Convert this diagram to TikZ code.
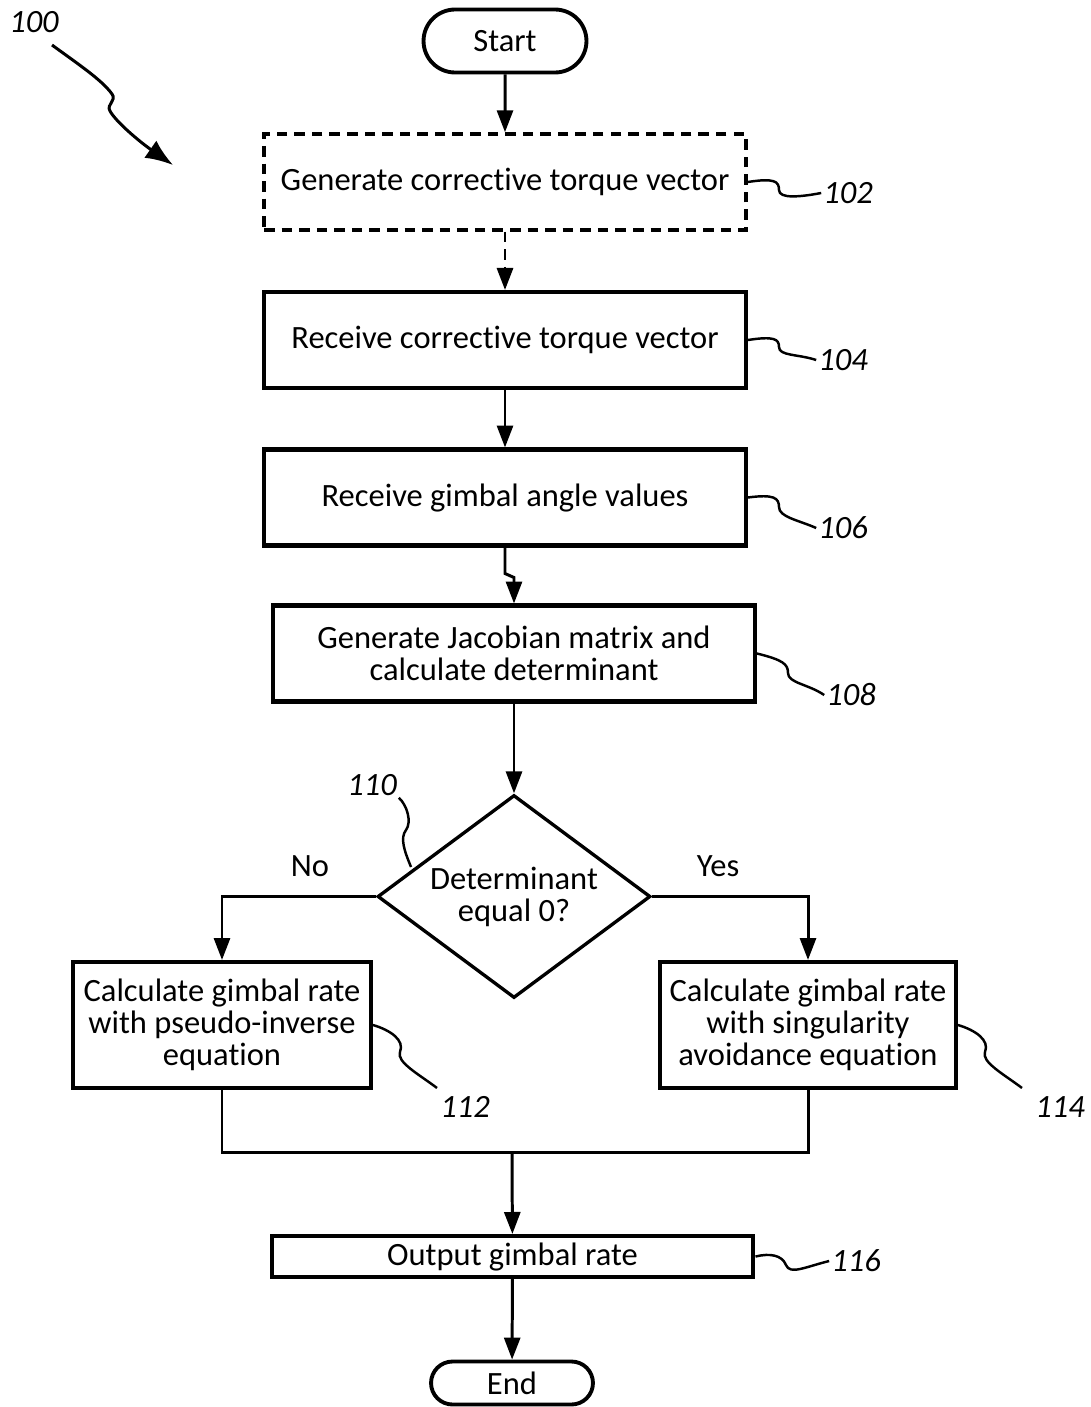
\documentclass[tikz,border=0pt]{standalone}
\usepackage{fontspec}
\setmainfont{Carlito}[RawFeature={-liga;-clig;-calt;-dlig}]
\usetikzlibrary{arrows.meta,positioning,shapes.geometric,shapes.misc}
\newcommand{\flowfont}{\fontsize{18.5}{18.2}\selectfont}
\tikzset{
  stepbox/.style={
    draw,line width=2.3pt,align=center,minimum width=9.64cm,
    minimum height=1.92cm,inner sep=2pt,font=\flowfont
  },
  dashbox/.style={stepbox,line width=2pt,dash pattern=on 6pt off 4pt},
  termbox/.style={draw,rounded rectangle,line width=2.2pt,inner sep=2pt,font=\flowfont},
  decision/.style={
    draw,diamond,aspect=1.345,line width=1.9pt,minimum width=5.46cm,
    minimum height=4.06cm,inner sep=0pt,align=center,font=\flowfont
  },
  reflabel/.style={inner sep=1pt,font=\flowfont\itshape},
  branchlabel/.style={inner sep=1pt,font=\flowfont},
  flowline/.style={line width=1.7pt},
  flowarrow/.style={flowline,-{Triangle[length=4.4mm,width=3.2mm]}},
  leadline/.style={line width=1.4pt},
  refarrow/.style={line width=1.7pt,-{Latex[length=5.5mm,width=4.2mm]}}
}

\begin{document}
\begin{tikzpicture}[x=0.02cm,y=-0.02cm]
  \useasboundingbox (0,0) rectangle (1091,1407);
  % flow chart steps
  \node[termbox,minimum width=3.4cm,minimum height=1.26cm] (start) at (505,41) {Start};
  \node[dashbox] (b102) at (505,182) {Generate corrective torque vector};
  \node[stepbox] (b104) at (505,340) {Receive corrective torque vector};
  \node[stepbox] (b106) at (505,497.5) {Receive gimbal angle values};
  \node[stepbox] (b108) at (514,653.5) {Generate Jacobian matrix and\\calculate determinant};
  \node[decision] (d110) at (514,896.5) {Determinant\\equal 0?};
  \node[stepbox,minimum width=5.96cm,minimum height=2.52cm] (b112) at (222,1025)
    {Calculate gimbal rate\\with pseudo-inverse\\equation};
  \node[stepbox,minimum width=5.92cm,minimum height=2.52cm] (b114) at (808,1025)
    {Calculate gimbal rate\\with singularity\\avoidance equation};
  \node[stepbox,minimum height=0.82cm] (b116) at (512.5,1256.5) {Output gimbal rate};
  \node[termbox,minimum width=3.38cm,minimum height=0.86cm] (end) at (512,1383) {End};
  \node[branchlabel] (no) at (310,866) {No};
  \node[branchlabel] (yes) at (718,866) {Yes};

  % connectors
  \draw[flowarrow] (start) -- (b102);
  \draw[flowarrow,dash pattern=on 6pt off 4pt] (b102) -- (b104);
  \draw[flowarrow] (b104) -- (b106);
  \draw[flowarrow] (b106.south) -- ++(0,26) -- ++(9,4) -- (b108.north);
  \draw[flowarrow] (b108) -- (d110);
  \draw[flowarrow] (d110.west) -| (b112.north);
  \draw[flowarrow] (d110.east) -| (b114.north);
  \coordinate (join) at (512,1152);
  \draw[flowline] (b112.south) |- (join) -| (b114.south);
  \draw[flowarrow] (join) -- (b116);
  \draw[flowarrow] (b116) -- (end);

  % reference numerals
  \node[reflabel] (l100) at (34,22) {100};
  \node[reflabel] (l102) at (848,193) {102};
  \node[reflabel] (l104) at (843,360) {104};
  \node[reflabel] (l106) at (843,528) {106};
  \node[reflabel] (l108) at (851,695) {108};
  \node[reflabel] (l110) at (372,785) {110};
  \node[reflabel] (l112) at (465,1107) {112};
  \node[reflabel] (l114) at (1060,1107) {114};
  \node[reflabel] (l116) at (856,1261) {116};
  \coordinate (s100) at (52,45);
  \coordinate (e100) at (173,165);
  \coordinate (t110) at (411,867);
  \coordinate (t112) at (437,1088);
  \coordinate (t114) at (1022,1088);

  \draw[refarrow] (s100) .. controls (78,64) and (102,80) .. (112,94)
    .. controls (117,101) and (106,104) .. (110,111)
    .. controls (116,122) and (140,142) .. (e100);
  \draw[leadline] (b102.east) .. controls (774,178) and (779,181) .. (779,190)
    .. controls (779,199) and (800,197) .. (l102.west);
  \draw[leadline] (b104.east) .. controls (774,336) and (779,339) .. (779,347)
    .. controls (779,356) and (798,354) .. (l104.west);
  \draw[leadline] (b106.east) .. controls (774,494) and (779,498) .. (779,507)
    .. controls (779,517) and (798,520) .. (l106.west);
  \draw[leadline] (b108.east) .. controls (783,660) and (788,664) .. (788,673)
    .. controls (788,683) and (808,684) .. (l108.west);
  \draw[leadline] (l110.south east) .. controls (407,805) and (412,822) .. (406,830)
    .. controls (400,838) and (404,850) .. (t110);
  \draw[leadline] (b112.east) .. controls (390,1030) and (405,1040) .. (400,1052)
    .. controls (396,1062) and (420,1075) .. (t112);
  \draw[leadline] (b114.east) .. controls (975,1030) and (990,1040) .. (985,1052)
    .. controls (981,1062) and (1005,1075) .. (t114);
  \draw[leadline] (b116.east) .. controls (770,1253) and (782,1255) .. (786,1265)
    .. controls (790,1275) and (805,1267) .. (l116.west);
\end{tikzpicture}
\end{document}
